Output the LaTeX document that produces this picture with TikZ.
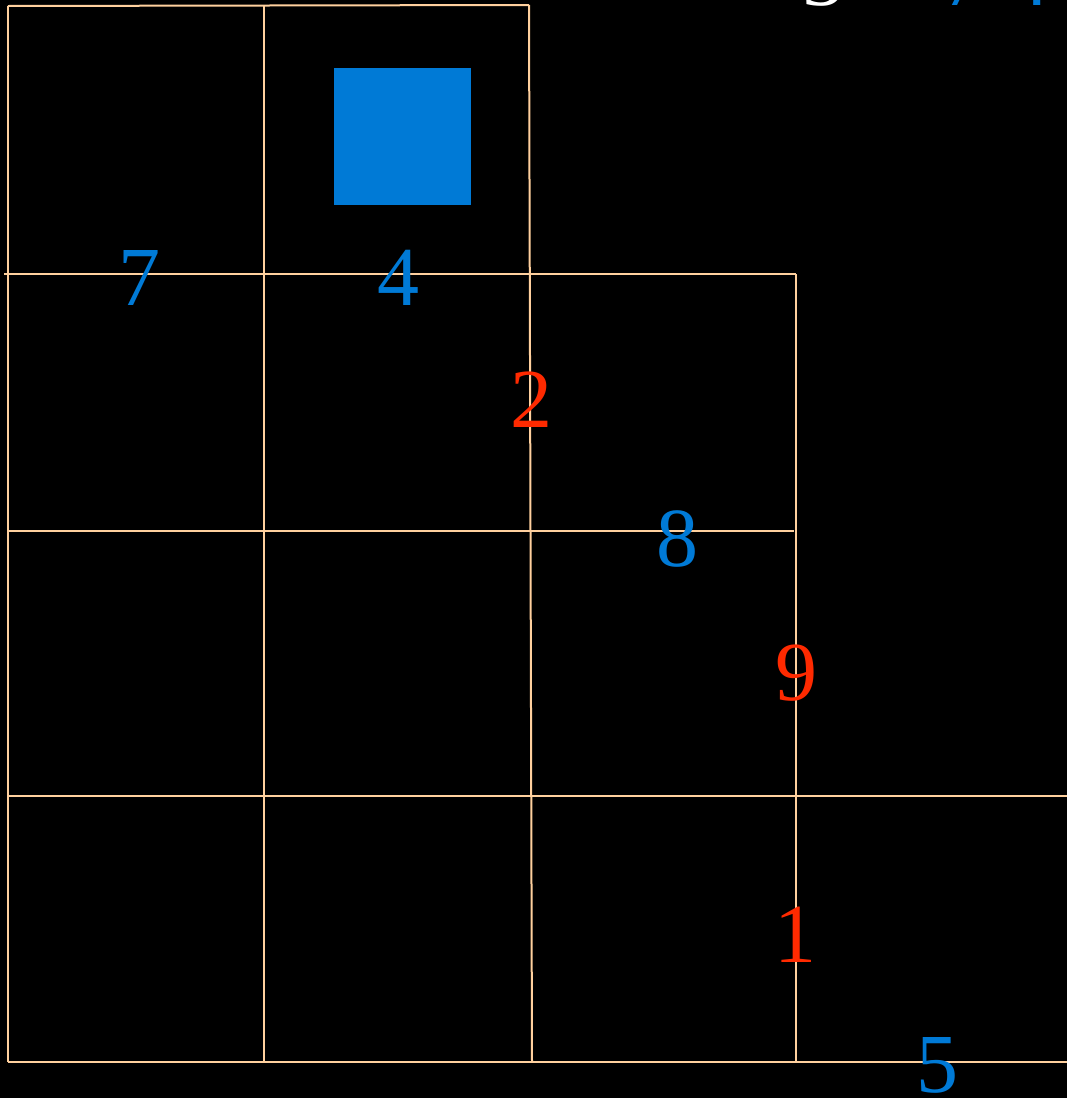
\documentclass[tikz,border=0pt]{standalone}
\usepackage{fontspec}
\setmainfont{Liberation Serif}
\definecolor{gridc}{HTML}{FFD09E}
\definecolor{blu}{HTML}{007AD6}
\definecolor{rd}{HTML}{FF2A00}
\begin{document}
\begin{tikzpicture}[x=1pt,y=-1pt,
  gl/.style={draw=gridc,line width=2pt},
  dig/.style={anchor=base,inner sep=0pt,font=\fontsize{84}{84}\selectfont},
  bdig/.style={dig,text=blu},
  rdig/.style={dig,text=rd}]
\fill[black] (0,0) rectangle (1067,1098);
\useasboundingbox (0,0) rectangle (1067,1098);
\begin{scope}
\clip (0,0) rectangle (1067,1098);
% grid
\draw[gl] (8,6) -- (529,5);
\draw[gl] (4,274) -- (796,274);
\draw[gl] (8,531) -- (794,531);
\draw[gl] (8,796) -- (1067,796);
\draw[gl] (8,1062) -- (1067,1062);
\draw[gl] (8,6) -- (8,1062);
\draw[gl] (264,6) -- (264,1062);
\draw[gl] (529,5) -- (532,1062);
\draw[gl] (796,274) -- (796,1062);
% square
\fill[blu] (334,68) rectangle (471,205);
% digits
\node[bdig] (n7) at (139,305) {7};
\node[bdig] (n4) at (398,305) {4};
\node[rdig] (n2) at (531,427) {2};
\node[bdig] (n8) at (677,566) {8};
\node[rdig] (n9) at (796,700) {9};
\node[rdig] (n1) at (795,962) {1};
\node[bdig] (n5) at (937,1092) {5};
% cut-off top row
\node[dig,text=white] (t3) at (823,5) {3};
\node[bdig] (t7) at (963,5) {7};
\node[bdig] (t4) at (1028,5) {4};
\end{scope}
\end{tikzpicture}
\end{document}
